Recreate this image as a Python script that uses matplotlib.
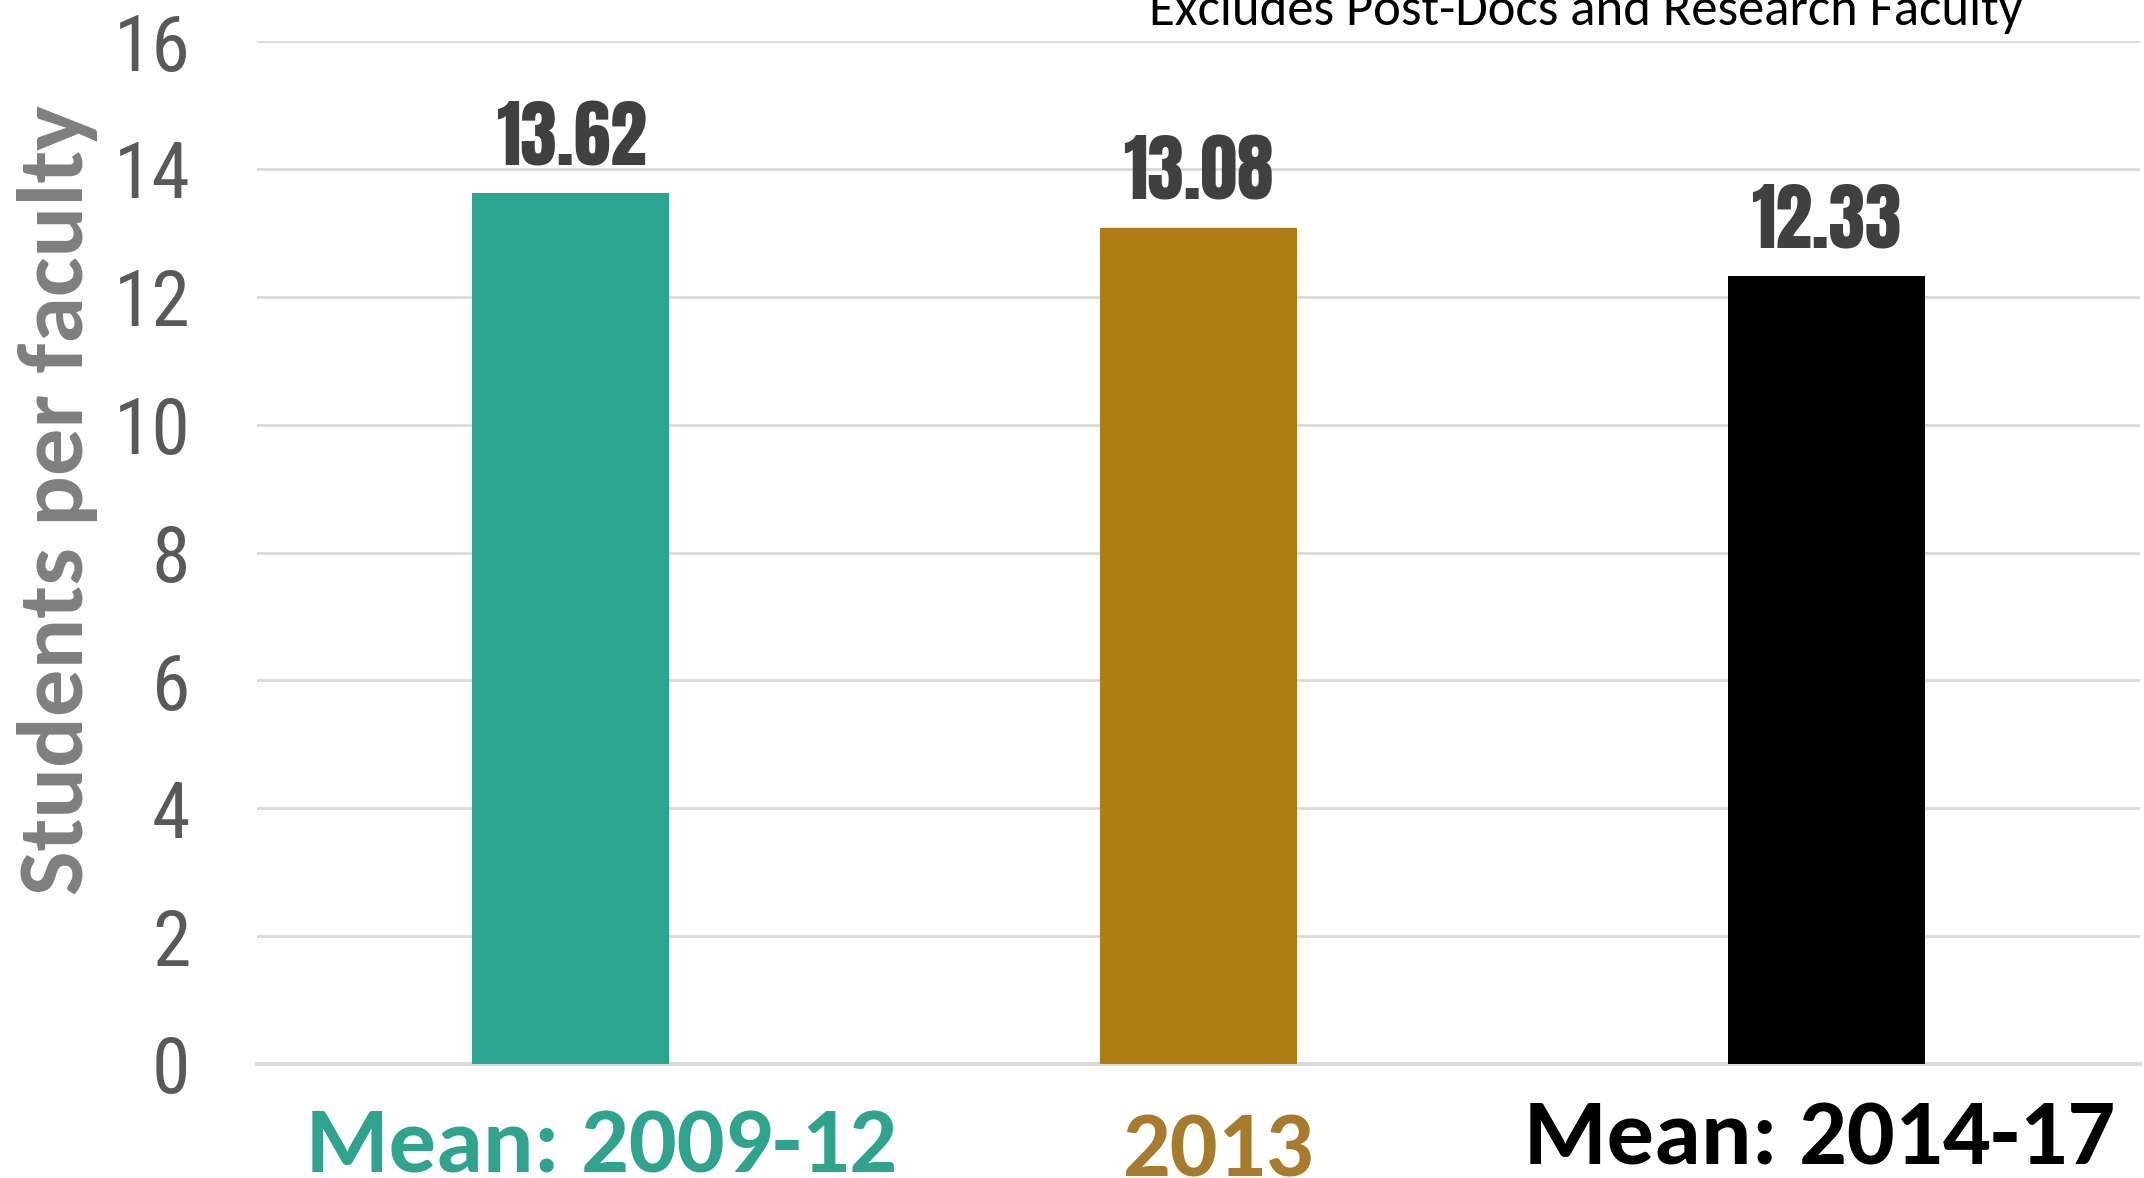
import matplotlib
matplotlib.use('Agg')
import matplotlib.pyplot as plt
import matplotlib.transforms as mtransforms

# data
categories = ['Mean: 2009-12', '2013', 'Mean: 2014-17']
values = [13.62, 13.08, 12.33]
bar_colors = ['#2AA590', '#B07D14', '#000000']
label_colors = ['#2EA38E', '#A87A2C', '#000000']
yticks = [0, 2, 4, 6, 8, 10, 12, 14, 16]

# small nudges of the category labels (data x, axes y)
label_dx = [0.049, 0.032, -0.011]
label_y = [-0.1056, -0.1095, -0.0987]

calibri = ['Carlito', 'Liberation Sans', 'DejaVu Sans']
narrow = ['Roboto Condensed', 'Archivo Narrow', 'Liberation Sans', 'DejaVu Sans']
heavy = ['Anton', 'Oswald', 'Liberation Sans', 'DejaVu Sans']

fig = plt.figure(figsize=(21.44, 11.78), dpi=100)
ax = fig.add_axes([257/2144, 1 - 1064/1178, (2140 - 257)/2144, (1064 - 41)/1178])

x = list(range(len(categories)))
ax.bar(x, values, width=0.314, color=bar_colors, zorder=3)

for i, v in enumerate(values):
    ax.annotate('%.2f' % v, (i, v), xytext=(0, 20), textcoords='offset points',
                ha='center', va='baseline', fontsize=53,
                color='#404040', family=heavy)

ax.set_xlim(-0.5, 2.5)
ax.set_ylim(0, 16)
ax.set_yticks(yticks)
ax.set_yticklabels([str(t) for t in yticks], fontsize=56, color='#595959',
                   family=narrow)
ax.yaxis.grid(True, color='#D9D9D9', lw=2, zorder=0)
ax.tick_params(axis='y', length=0, pad=48)
ax.set_xticks(x)
ax.set_xticklabels([])
ax.tick_params(axis='x', length=0)

trans = mtransforms.blended_transform_factory(ax.transData, ax.transAxes)
for i, cat in enumerate(categories):
    ax.text(i + label_dx[i], label_y[i], cat, transform=trans, ha='center',
            va='baseline', fontsize=68, fontweight='bold',
            color=label_colors[i], family=calibri, clip_on=False)

for s in ['top', 'right', 'left']:
    ax.spines[s].set_visible(False)
ax.spines['bottom'].set_color('#D9D9D9')
ax.spines['bottom'].set_linewidth(3)

fig.text(58/2144, 1 - 500/1178, 'Students per faculty', rotation=90,
         ha='center', va='center', fontsize=68, fontweight='bold',
         color='#7F7F7F', family=calibri)
fig.text(1586/2144, 1 - 25/1178, 'Excludes Post-Docs and Research Faculty',
         ha='center', va='baseline', fontsize=38, color='#000000',
         family=calibri)

plt.savefig('out.png')
plt.close()
